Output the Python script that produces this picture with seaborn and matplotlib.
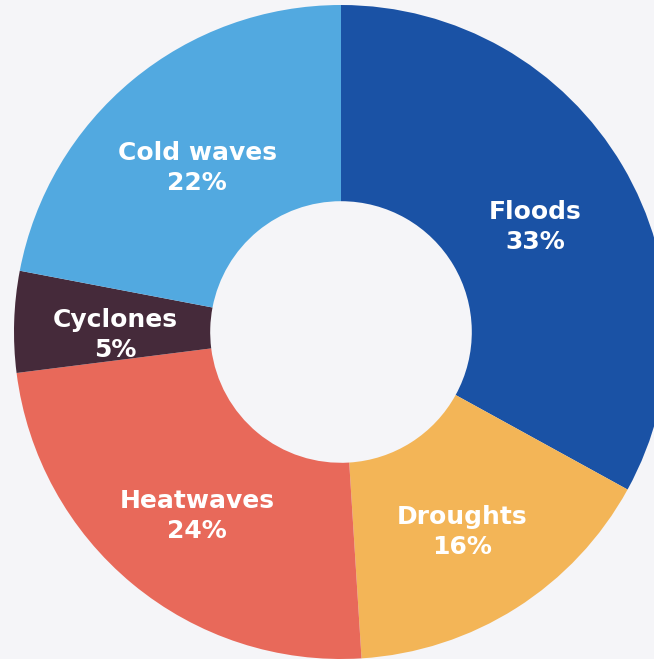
import matplotlib
matplotlib.use("Agg")
import numpy as np
import seaborn as sns
import matplotlib.pyplot as plt

categories = ["Floods", "Droughts", "Heatwaves", "Cyclones", "Cold waves"]
shares = [33, 16, 24, 5, 22]
colors = ["#1a52a5", "#f3b557", "#e8695a", "#452a3a", "#52a9e0"]

sns.set_theme(style="white")
plt.rcParams["font.family"] = ["DejaVu Sans"]

bg = "#f5f5f8"
fig = plt.figure(figsize=(6.54, 6.59), dpi=100, facecolor=bg)
# donut is cropped by the figure edges, so place the axes by hand
ax = fig.add_axes([14 / 654, 0, 654 / 654, 654 / 659])
ax.set_facecolor(bg)

wedges, _ = ax.pie(shares, colors=colors, startangle=90, counterclock=False,
                   radius=1.0, wedgeprops=dict(width=0.6, linewidth=0))

for w, name, val in zip(wedges, categories, shares):
    mid = np.deg2rad((w.theta1 + w.theta2) / 2)
    x, y = 0.69 * np.cos(mid), 0.69 * np.sin(mid) - 0.03
    ax.text(x, y, f"{name}\n{val}%", ha="center", va="center", color="white",
            fontsize=18, fontweight="bold", linespacing=1.3)

ax.set_xlim(-1, 1)
ax.set_ylim(-1, 1)
ax.set_aspect("equal")
ax.axis("off")

fig.savefig("out.png", dpi=100, facecolor=bg)
